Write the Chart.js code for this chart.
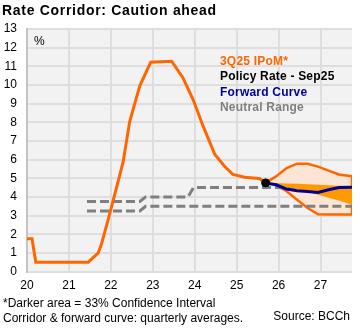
<!DOCTYPE html>
<html>
<head>
<meta charset="utf-8">
<script src="https://cdn.jsdelivr.net/npm/chart.js"></script>
<style>
  html, body { margin: 0; padding: 0; background: #fff; }
</style>
</head>
<body>
<canvas id="rates" width="360" height="328"></canvas>
<script>
// Monetary policy rate path, decimal years
const histYears = [2020.00, 2020.12, 2020.21, 2021.46, 2021.70, 2021.78, 2021.95, 2022.29, 2022.45, 2022.69,
                   2022.95, 2023.45, 2023.72, 2023.96, 2024.20, 2024.48, 2024.71, 2024.91, 2025.19, 2025.47, 2025.55, 2025.69];
const histRate  = [1.75, 1.75, 0.5, 0.5, 1.0, 1.5, 2.9, 5.85, 8.05, 9.95,
                   11.22, 11.27, 10.38, 9.22, 7.79, 6.27, 5.64, 5.2, 5.05, 5.0, 4.97, 4.75];

// IPoM projection fan (quarterly)
const fanYears   = [2025.69, 2025.94, 2026.19, 2026.44, 2026.69, 2026.94, 2027.19, 2027.44, 2027.75];
const fanUpper   = [4.75, 5.1, 5.55, 5.78, 5.78, 5.62, 5.41, 5.2, 5.1];
const fanLower   = [4.75, 4.62, 4.3, 3.85, 3.4, 3.07, 3.05, 3.05, 3.05];
const coreUpper  = [4.75, 4.75, 4.72, 4.7, 4.68, 4.65, 4.62, 4.6, 4.58];
const coreLower  = [4.75, 4.65, 4.52, 4.4, 4.28, 4.12, 3.95, 3.8, 3.58];
const forwardCurve = [4.75, 4.65, 4.42, 4.33, 4.29, 4.24, 4.38, 4.5, 4.52];

// Neutral rate corridor
const neutralLowYears  = [2021.43, 2022.69, 2022.83, 2027.75];
const neutralLow       = [3.25, 3.25, 3.5, 3.5];
const neutralHighYears = [2021.43, 2022.69, 2022.83, 2023.84, 2023.97, 2027.75];
const neutralHigh      = [3.75, 3.75, 4.0, 4.0, 4.5, 4.5];

const policyYears = [2025.69];
const policyRates = [4.75];

const yTicks = [0, 1, 2, 3, 4, 5, 6, 7, 8, 9, 10, 11, 12, 13];
const yearTicks = [2020, 2021, 2022, 2023, 2024, 2025, 2026, 2027];

const TITLE = 'Rate Corridor: Caution ahead';
const legendItems = [
  ['3Q25 IPoM*', '#ff6600'],
  ['Policy Rate - Sep25', '#000000'],
  ['Forward Curve', '#000099'],
  ['Neutral Range', '#808080']
];
const footnotes = ['*Darker area = 33% Confidence Interval', 'Corridor & forward curve: quarterly averages.'];
const SOURCE = 'Source: BCCh';

const FONT = '"Liberation Sans", Arial, sans-serif';

const pts = (xs, ys) => xs.map((x, i) => ({ x, y: ys[i] }));
// closed band: upper edge left to right, lower edge back
const band = (xs, hi, lo) => pts(xs, hi).concat(pts(xs, lo).reverse());

const decorations = {
  id: 'decorations',
  beforeDraw(chart) {
    const { ctx, chartArea: a } = chart;
    ctx.save();
    ctx.fillStyle = '#f2f2f2';
    ctx.fillRect(a.left, a.top, a.right - a.left, a.bottom - a.top);
    ctx.restore();
  },
  afterDraw(chart) {
    const ctx = chart.ctx;
    ctx.save();
    ctx.textBaseline = 'alphabetic';
    ctx.textAlign = 'left';

    ctx.fillStyle = '#000';
    ctx.font = 'bold 14px ' + FONT;
    ctx.letterSpacing = '0.7px';
    ctx.fillText(TITLE, 2, 15);
    ctx.letterSpacing = '0px';

    ctx.font = '12px ' + FONT;
    ctx.fillText('%', 34, 45);

    ctx.font = 'bold 12px ' + FONT;
    ctx.letterSpacing = '0.2px';
    legendItems.forEach(([text, color], i) => {
      ctx.fillStyle = color;
      ctx.fillText(text, 220, 65 + i * 15.4);
    });
    ctx.letterSpacing = '0px';

    ctx.fillStyle = '#000';
    ctx.font = '12px ' + FONT;
    ctx.fillText(footnotes[0], 3, 307);
    ctx.fillText(footnotes[1], 3, 322);
    ctx.textAlign = 'right';
    ctx.fillText(SOURCE, 350, 319.5);
    ctx.restore();
  }
};

new Chart(document.getElementById('rates'), {
  type: 'line',
  data: {
    datasets: [
      {
        label: 'IPoM range',
        data: band(fanYears, fanUpper, fanLower),
        borderColor: '#ff6600',
        borderWidth: 2.5,
        backgroundColor: '#fde5d6',
        fill: 'shape',
        pointRadius: 0,
        order: 6
      },
      {
        label: 'Neutral low',
        data: pts(neutralLowYears, neutralLow),
        borderColor: '#7f7f7f',
        borderWidth: 3,
        borderDash: [9, 4],
        pointRadius: 0,
        fill: false,
        order: 5
      },
      {
        label: 'Neutral high',
        data: pts(neutralHighYears, neutralHigh),
        borderColor: '#7f7f7f',
        borderWidth: 3,
        borderDash: [9, 4],
        pointRadius: 0,
        fill: false,
        order: 5
      },
      {
        label: '33% interval',
        data: band(fanYears, coreUpper, coreLower),
        borderWidth: 0,
        borderColor: 'rgba(0,0,0,0)',
        backgroundColor: '#ff9900',
        fill: 'shape',
        pointRadius: 0,
        order: 4
      },
      {
        label: '3Q25 IPoM',
        data: pts(histYears, histRate),
        borderColor: '#ff6600',
        borderWidth: 3,
        pointRadius: 0,
        fill: false,
        order: 3
      },
      {
        label: 'Forward Curve',
        data: pts(fanYears, forwardCurve),
        borderColor: '#000099',
        borderWidth: 3,
        pointRadius: 0,
        fill: false,
        order: 2
      },
      {
        label: 'Policy Rate - Sep25',
        data: pts(policyYears, policyRates),
        showLine: false,
        pointRadius: 4,
        pointBackgroundColor: '#000',
        pointBorderColor: '#000',
        order: 1
      }
    ]
  },
  options: {
    responsive: false,
    animation: false,
    layout: {
      padding: { top: 29, right: 8, bottom: 36.5, left: 0 }
    },
    plugins: {
      legend: { display: false },
      tooltip: { enabled: false }
    },
    scales: {
      x: {
        type: 'linear',
        min: 2020,
        max: 2027.75,
        afterFit: (scale) => { scale.height = 20; },
        afterBuildTicks: (scale) => { scale.ticks = yearTicks.map(v => ({ value: v })); },
        ticks: {
          callback: (v) => String(v - 2000),
          color: '#000',
          padding: 7,
          maxRotation: 0,
          font: { family: FONT, size: 12 }
        },
        grid: { color: '#dedede', lineWidth: 2, drawTicks: false },
        border: { display: false }
      },
      y: {
        min: 0,
        max: 13,
        afterFit: (scale) => { scale.width = 27; },
        afterBuildTicks: (scale) => { scale.ticks = yTicks.map(v => ({ value: v })); },
        ticks: {
          color: '#000',
          padding: 10,
          font: { family: FONT, size: 12 }
        },
        grid: { color: '#dedede', lineWidth: 2, drawTicks: false },
        border: { display: true, color: '#c4c4c4', width: 2 }
      }
    }
  },
  plugins: [decorations]
});
</script>
</body>
</html>
